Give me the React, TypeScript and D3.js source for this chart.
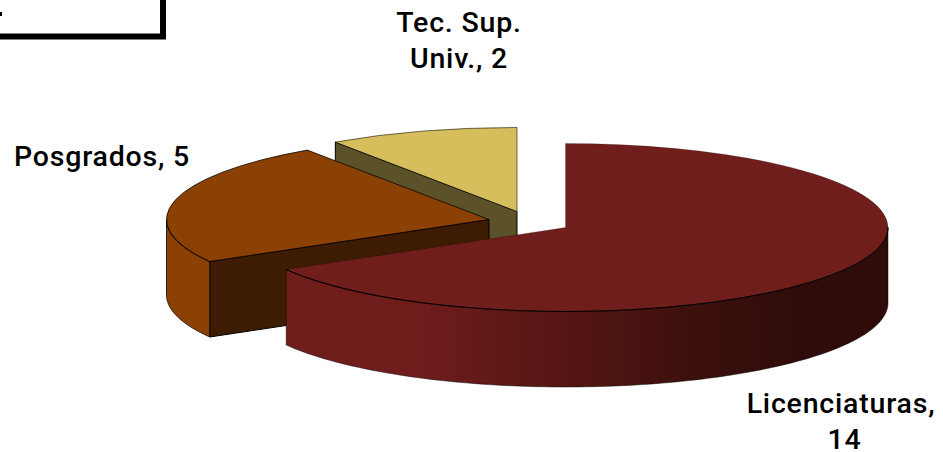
import React, { useEffect, useRef } from "react";
import * as d3 from "d3";

const categories = ["Licenciaturas", "Posgrados", "Tec. Sup. Univ."];
const values = [14, 5, 2];

const topColors = ["#701e1c", "#8b4103", "#d7be5c"];
const cutColors = ["#701e1c", "#3d1c03", "#5c5229"];
const apexX = [565.5, 489, 517];
const apexY = [227.5, 219.5, 211.5];

const labelLines = [
  { lines: ["Licenciaturas,", "14"], xs: [841, 844.5], y: 412.5 },
  { lines: ["Posgrados, 5"], xs: [102], y: 166 },
  { lines: ["Tec. Sup.", "Univ., 2"], xs: [459, 459], y: 32 },
];

const rx = 322.5;
const ry = 84;
const depth = 75.5;

const App = () => {
  const ref = useRef<SVGSVGElement>(null);

  useEffect(() => {
    const svg = d3.select(ref.current);
    svg.selectAll("*").remove();

    const defs = svg.append("defs");
    const grad = defs
      .append("linearGradient")
      .attr("id", "rim0")
      .attr("gradientUnits", "userSpaceOnUse")
      .attr("x1", 287)
      .attr("x2", 888)
      .attr("y1", 0)
      .attr("y2", 0);
    [
      [0, "#701e1c"],
      [0.22, "#6e1d1b"],
      [0.45, "#561614"],
      [0.68, "#3c100d"],
      [0.85, "#2f0c0a"],
      [1, "#2f0c0a"],
    ].forEach(([o, c]) => grad.append("stop").attr("offset", o).attr("stop-color", c));

    const pie = d3.pie<number>().sort(null);
    const arcs = pie(values);
    const arc = d3.arc<d3.PieArcDatum<number>>().innerRadius(0).outerRadius(rx);

    const rimPoint = (i: number, a: number) => [
      apexX[i] + rx * Math.sin(a),
      apexY[i] - ry * Math.cos(a),
    ] as [number, number];
    const line = d3.line();

    // back to front, so the big slice covers the others
    [2, 1, 0].forEach((i) => {
      const d = arcs[i];
      const g = svg.append("g").attr("stroke", "#000").attr("stroke-width", 1).attr("stroke-linejoin", "round");

      // top of the slice
      const drawTop = () =>
        g
          .append("path")
          .attr("d", arc(d))
          .attr("transform", `translate(${apexX[i]},${apexY[i]}) scale(1,${ry / rx})`)
          .attr("vector-effect", "non-scaling-stroke")
          .attr("stroke-opacity", i === 0 ? 0.2 : i === 2 ? 0.55 : 0.75)
          .attr("fill", topColors[i]);

      if (i === 0) drawTop();

      // cut face on the leading edge of the slice
      if (i > 0) {
        const [ex, ey] = rimPoint(i, d.startAngle);
        g.append("path")
          .attr(
            "d",
            line([
              [apexX[i], apexY[i]],
              [ex, ey],
              [ex, ey + depth],
              [apexX[i], apexY[i] + depth],
            ]) + "Z"
          )
          .attr("fill", cutColors[i]);
      }

      // outer rim, only the part that faces the viewer
      const from = Math.max(d.startAngle, Math.PI / 2);
      const to = Math.min(d.endAngle, (3 * Math.PI) / 2);
      if (to > from) {
        const steps = d3.range(0, 121).map((k) => from + ((to - from) * k) / 120);
        const upper = steps.map((a) => rimPoint(i, a));
        const lower = upper.map(([x, y]) => [x, y + depth] as [number, number]).reverse();
        g.append("path")
          .attr("d", line(upper.concat(lower)) + "Z")
          .attr("fill", i === 0 ? "url(#rim0)" : topColors[i])
          .attr("stroke-opacity", i === 0 ? 0.45 : 0.8);
        g.append("path").attr("d", line(upper)).attr("fill", "none");
      }

      if (i > 0) drawTop();
    });

    labelLines.forEach((l) => {
      l.lines.forEach((t, k) => {
        svg
          .append("text")
          .attr("x", l.xs[k])
          .attr("y", l.y + k * 36)
          .attr("text-anchor", "middle")
          .attr("font-family", "Roboto")
          .attr("font-weight", 500)
          .attr("font-size", 28.5)
          .attr("letter-spacing", 0.8)
          .attr("fill", "#000")
          .text(t);
      });
    });

    // title box, cut off by the page corner
    svg
      .append("rect")
      .attr("x", -10)
      .attr("y", -10)
      .attr("width", 173)
      .attr("height", 46.5)
      .attr("fill", "#fff")
      .attr("stroke", "#000")
      .attr("stroke-width", 6);
    svg.append("rect").attr("x", 0).attr("y", 12).attr("width", 2).attr("height", 4).attr("fill", "#000");
  }, []);

  return (
    <svg
      ref={ref}
      width={943}
      height={452}
      aria-label={categories.join(", ")}
      style={{ position: "absolute", left: 0, top: 0, display: "block", background: "#fff" }}
    />
  );
};

export default App;
